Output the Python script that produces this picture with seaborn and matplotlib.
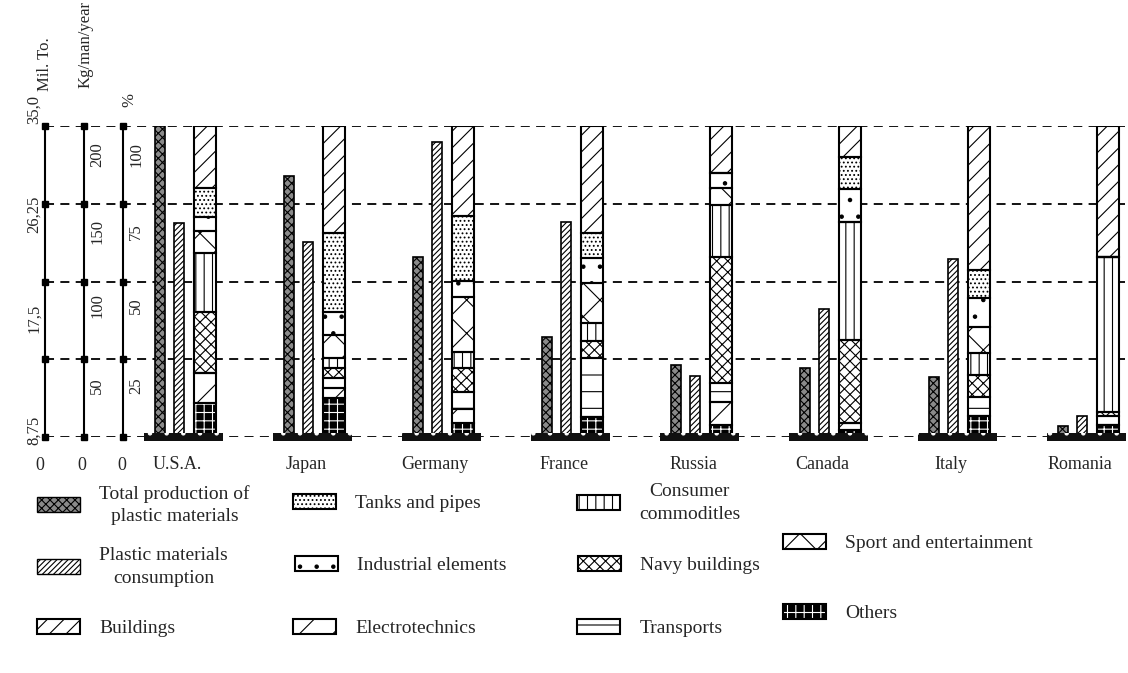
import numpy as np
import pandas as pd
import matplotlib
matplotlib.use('Agg')
import matplotlib.pyplot as plt
from matplotlib.patches import Patch
import seaborn as sns

# Datos
countries = ['U.S.A.', 'Japan', 'Germany', 'France', 'Russia', 'Canada', 'Italy', 'Romania']
production = [35.0, 29.4, 20.3, 11.2, 8.1, 7.8, 6.7, 1.2]            # Mil. To.
consumption = [137.4, 125.6, 189.5, 138.5, 39.4, 82.1, 114.3, 13.7]   # Kg/man/year

# Estructura del consumo (%), de abajo hacia arriba
others = [10.8, 12.4, 4.5, 6.5, 3.9, 2.2, 6.8, 3.9]
electro = [9.7, 3.3, 4.5, 0.0, 7.5, 2.2, 0.0, 0.0]
transports = [0.0, 3.2, 5.6, 18.8, 5.9, 0.0, 6.2, 2.9]
navy = [19.6, 3.2, 7.5, 5.6, 40.7, 26.8, 7.0, 1.3]
consumer = [19.2, 3.2, 5.3, 5.7, 16.6, 38.0, 7.1, 49.9]
sport = [7.0, 7.5, 17.7, 12.8, 5.4, 0.0, 8.4, 0.0]
industrial = [4.3, 7.5, 5.2, 8.0, 5.0, 10.5, 9.1, 0.0]
tanks = [9.4, 25.2, 20.8, 8.1, 0.0, 10.4, 9.1, 0.0]
buildings = [20.0, 34.5, 28.9, 34.5, 15.0, 9.9, 46.3, 42.0]

segments = [
    ('Others', others, 'black', 'white', '++'),
    ('Electrotechnics', electro, 'white', 'black', '/'),
    ('Transports', transports, 'white', 'black', '-'),
    ('Navy buildings', navy, 'white', 'black', 'xxx'),
    ('Consumer\ncommoditles', consumer, 'white', 'black', '||'),
    ('Sport and entertainment', sport, 'white', 'black', 'x'),
    ('Industrial elements', industrial, 'white', 'black', '.'),
    ('Tanks and pipes', tanks, 'white', 'black', '....'),
    ('Buildings', buildings, 'white', 'black', '//'),
]

sns.set_theme(style='white')
plt.rcParams['font.family'] = ['Liberation Serif', 'DejaVu Serif']
plt.rcParams['hatch.linewidth'] = 0.8

W, H = 1128, 673
fig = plt.figure(figsize=(W / 100, H / 100), dpi=100, facecolor='white')
ax = fig.add_axes([45 / W, 1 - 437 / H, 1080 / W, 311 / H])
ax_mil = ax.twinx()
ax_kg = ax.twinx()


def xd(px):
    return (px - 183.5) / 129


def fx(px):
    return px / W


def fy(py):
    return 1 - py / H


pos = np.arange(len(countries))
df = pd.DataFrame({'prod_x': pos - 0.182, 'cons_x': pos - 0.035,
                   'production': production, 'consumption': consumption})

# Produccion total (Mil. To.) y consumo (Kg/man/year)
sns.barplot(data=df, x='prod_x', y='production', native_scale=True, width=0.078,
            color='#8a8a8a', saturation=1, edgecolor='black', linewidth=1.2,
            hatch='xxxx', errorbar=None, ax=ax_mil)
sns.barplot(data=df, x='cons_x', y='consumption', native_scale=True, width=0.078,
            color='white', saturation=1, edgecolor='black', linewidth=1.2,
            hatch='//////', errorbar=None, ax=ax_kg)
ax_mil.set_ylim(0, 35)
ax_kg.set_ylim(0, 200)
ax_mil.axis('off')
ax_kg.axis('off')

# Barras apiladas (%)
bottom = np.zeros(len(countries))
for name, vals, fc, hc, hatch in segments:
    vals = np.array(vals)
    ax.bar(pos + 0.167, vals, width=0.17, bottom=bottom, color=fc, edgecolor=hc,
           hatch=hatch, linewidth=0, zorder=2)
    ax.bar(pos + 0.167, vals, width=0.17, bottom=bottom, fill=False,
           edgecolor='black', linewidth=1.5, zorder=2.5)
    bottom += vals

# Base de cada pais
ax_kg.bar(pos, 5.2, bottom=-2.6, width=0.62, color='#111111', edgecolor='white',
          hatch='.', linewidth=0, clip_on=False, zorder=5)

# Lineas de referencia
for v in [0, 25, 50, 75, 100]:
    ax.axhline(v, color='black', lw=1.3, ls=(0, (5, 3.5)), zorder=0)
for px in [45, 84, 123]:
    ax.plot([xd(px)] * 5, [0, 25, 50, 75, 100], color='black', lw=1.5,
            marker='s', ms=5, clip_on=False, zorder=3)

ax.set_ylim(0, 100)
ax.set_xlim(xd(45), xd(1125))
ax.set_yticks([])
ax.set_xticks(pos - 0.05)
ax.set_xticklabels(countries)
ax.tick_params(axis='x', length=0, pad=14, labelsize=13)
ax.set_xlabel('')
ax.set_ylabel('')
sns.despine(ax=ax, left=True, bottom=True)

# Ejes de la izquierda
txt = dict(ha='center', va='center', fontsize=12, rotation=90)
fig.text(fx(45), fy(64), 'Mil. To.', **txt)
fig.text(fx(86), fy(45), 'Kg/man/year', **txt)
fig.text(fx(129), fy(100), '%', **txt)
for lab, py in [('35,0', 110), ('26,25', 214), ('17,5', 318), ('8,75', 430)]:
    fig.text(fx(34), fy(py), lab, **txt)
for lab, py in [('200', 155), ('150', 232), ('100', 306), ('50', 386)]:
    fig.text(fx(97), fy(py), lab, **txt)
for lab, py in [('100', 155), ('75', 232), ('50', 306), ('25', 386)]:
    fig.text(fx(136), fy(py), lab, **txt)
for px in [40, 82, 122]:
    fig.text(fx(px), fy(466), '0', ha='center', va='center', fontsize=13)

# Leyenda
handles = {
    'Total production of\nplastic materials': Patch(facecolor='#8a8a8a', edgecolor='black', hatch='xxxx'),
    'Plastic materials\nconsumption': Patch(facecolor='white', edgecolor='black', hatch='//////'),
}
for name, vals, fc, hc, hatch in segments:
    handles[name] = (Patch(facecolor=fc, edgecolor=hc, hatch=hatch, linewidth=0),
                     Patch(fill=False, edgecolor='black', linewidth=1.5))

legend_pos = [
    ('Total production of\nplastic materials', 37, 505),
    ('Plastic materials\nconsumption', 37, 567),
    ('Buildings', 37, 628),
    ('Tanks and pipes', 293, 503),
    ('Industrial elements', 295, 565),
    ('Electrotechnics', 293, 628),
    ('Consumer\ncommoditles', 577, 503),
    ('Navy buildings', 578, 565),
    ('Transports', 577, 628),
    ('Sport and entertainment', 783, 543),
    ('Others', 783, 613),
]
for lab, px, py in legend_pos:
    h = handles[lab]
    if not isinstance(h, tuple):
        h = (h,)
    leg = fig.legend(handles=[h], labels=[lab], loc='center left',
                     bbox_to_anchor=(fx(px), fy(py)), frameon=False, borderpad=0,
                     borderaxespad=0, handlelength=2.2, handleheight=0.8,
                     handletextpad=1.0, fontsize=14)
    for t in leg.get_texts():
        t.set_multialignment('center')
        t.set_linespacing(1.45)

fig.savefig('out.png', dpi=100, facecolor='white')
